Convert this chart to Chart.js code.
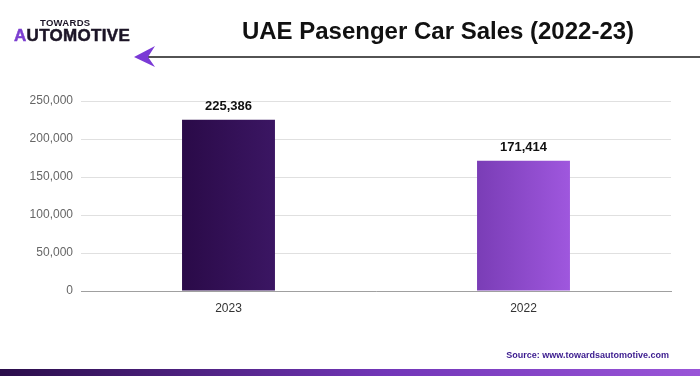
<!DOCTYPE html>
<html>
<head>
<meta charset="utf-8">
<script src="https://cdn.jsdelivr.net/npm/chart.js@4"></script>
<style>
  html, body { margin: 0; padding: 0; background: #fff; }
  #wrap { position: relative; width: 700px; height: 376px; overflow: hidden; font-family: "Liberation Sans", Arial, sans-serif; }
  #chart { position: absolute; left: 0; top: 0; }
  .logo-top { position: absolute; left: 40px; top: 17px; font: bold 9.5px "Liberation Sans", Arial, sans-serif; color: #1c1527; letter-spacing: 0.3px; }
  .logo-main { position: absolute; left: 14px; top: 26px; font: bold 17px "Liberation Sans", Arial, sans-serif; color: #1c1527; letter-spacing: 0.3px; -webkit-text-stroke: 0.5px #1c1527; }
  .logo-main span { color: #7c3fd0; -webkit-text-stroke: 0.5px #7c3fd0; }
  .title { position: absolute; left: 0; width: 876px; top: 17px; text-align: center; font: bold 24px "Liberation Sans", Arial, sans-serif; color: #111; }
  .source { position: absolute; right: 31px; top: 350px; font: bold 9px "Liberation Sans", Arial, sans-serif; color: #3a1a8e; }
  .band { position: absolute; left: 0; top: 369px; width: 700px; height: 7px; background: linear-gradient(to right, #2a0d4a, #7236b8 55%, #9a55d8); }
</style>
</head>
<body>
<div id="wrap">
  <canvas id="chart" width="700" height="376"></canvas>
  <div class="logo-top">TOWARDS</div>
  <div class="logo-main"><span>A</span>UTOMOTIVE</div>
  <div class="title">UAE Pasenger Car Sales (2022-23)</div>
  <div class="source">Source: www.towardsautomotive.com</div>
  <div class="band"></div>
</div>
<script>
// --- DATOS ---
const categories = ['2023', '2022'];
const salesValues = [225386, 171414];
const yTicks = [0, 50000, 100000, 150000, 200000, 250000];
const barColorsStart = ['#2a0a48', '#7a3db6'];
const barColorsEnd = ['#3b1663', '#9f57de'];

const CAT_PCT = 0.63;
const BAR_PCT = 0.5;

// gradiente horizontal por barra, calculado desde la escala x
const barGradient = (ctx) => {
  const chart = ctx.chart;
  const xs = chart.scales.x;
  const area = chart.chartArea;
  if (!xs || !area || ctx.dataIndex === undefined) return barColorsStart[0];
  const cx = xs.getPixelForValue(ctx.dataIndex);
  const half = (area.right - area.left) / categories.length * CAT_PCT * BAR_PCT / 2;
  if (!isFinite(cx) || !isFinite(half)) return barColorsStart[ctx.dataIndex];
  const g = chart.ctx.createLinearGradient(cx - half, 0, cx + half, 0);
  g.addColorStop(0, barColorsStart[ctx.dataIndex]);
  g.addColorStop(1, barColorsEnd[ctx.dataIndex]);
  return g;
};

const valueLabels = {
  id: 'valueLabels',
  afterDatasetsDraw(chart) {
    const ctx = chart.ctx;
    ctx.save();
    ctx.font = 'bold 13px "Liberation Sans", Arial, sans-serif';
    ctx.fillStyle = '#111';
    ctx.textAlign = 'center';
    ctx.textBaseline = 'bottom';
    chart.getDatasetMeta(0).data.forEach((bar, i) => {
      ctx.fillText(salesValues[i].toLocaleString('en-US'), bar.x, bar.y - 7);
    });
    ctx.restore();
  }
};

const headerArrow = {
  id: 'headerArrow',
  afterDraw(chart) {
    const ctx = chart.ctx;
    ctx.save();
    ctx.strokeStyle = '#1a1a1a';
    ctx.lineWidth = 1.5;
    ctx.beginPath();
    ctx.moveTo(148, 57);
    ctx.lineTo(700, 57);
    ctx.stroke();
    ctx.fillStyle = '#7a3ad6';
    ctx.beginPath();
    ctx.moveTo(134, 57);
    ctx.lineTo(155, 46);
    ctx.lineTo(148, 57);
    ctx.lineTo(155, 67);
    ctx.closePath();
    ctx.fill();
    ctx.restore();
  }
};

new Chart(document.getElementById('chart'), {
  type: 'bar',
  data: {
    labels: categories,
    datasets: [{
      data: salesValues,
      backgroundColor: barGradient,
      categoryPercentage: CAT_PCT,
      barPercentage: BAR_PCT
    }]
  },
  options: {
    responsive: false,
    animation: false,
    layout: { padding: { top: 101, right: 29, bottom: 55, left: 0 } },
    plugins: { legend: { display: false }, tooltip: { enabled: false } },
    scales: {
      x: {
        grid: { display: false, drawTicks: false },
        border: { color: '#a0a0a0', width: 1 },
        ticks: { color: '#333', font: { size: 12, family: '"Liberation Sans", Arial, sans-serif' }, padding: 10 },
        afterFit: (s) => { s.height = 30; }
      },
      y: {
        min: 0,
        max: 250000,
        afterBuildTicks: (s) => { s.ticks = yTicks.map(v => ({ value: v })); },
        grid: { color: '#e0e0e0', drawTicks: false },
        border: { display: false },
        ticks: {
          color: '#666',
          font: { size: 12, family: '"Liberation Sans", Arial, sans-serif' },
          padding: 8,
          callback: (v) => v.toLocaleString('en-US')
        },
        afterFit: (s) => { s.width = 81; }
      }
    }
  },
  plugins: [valueLabels, headerArrow]
});
</script>
</body>
</html>
